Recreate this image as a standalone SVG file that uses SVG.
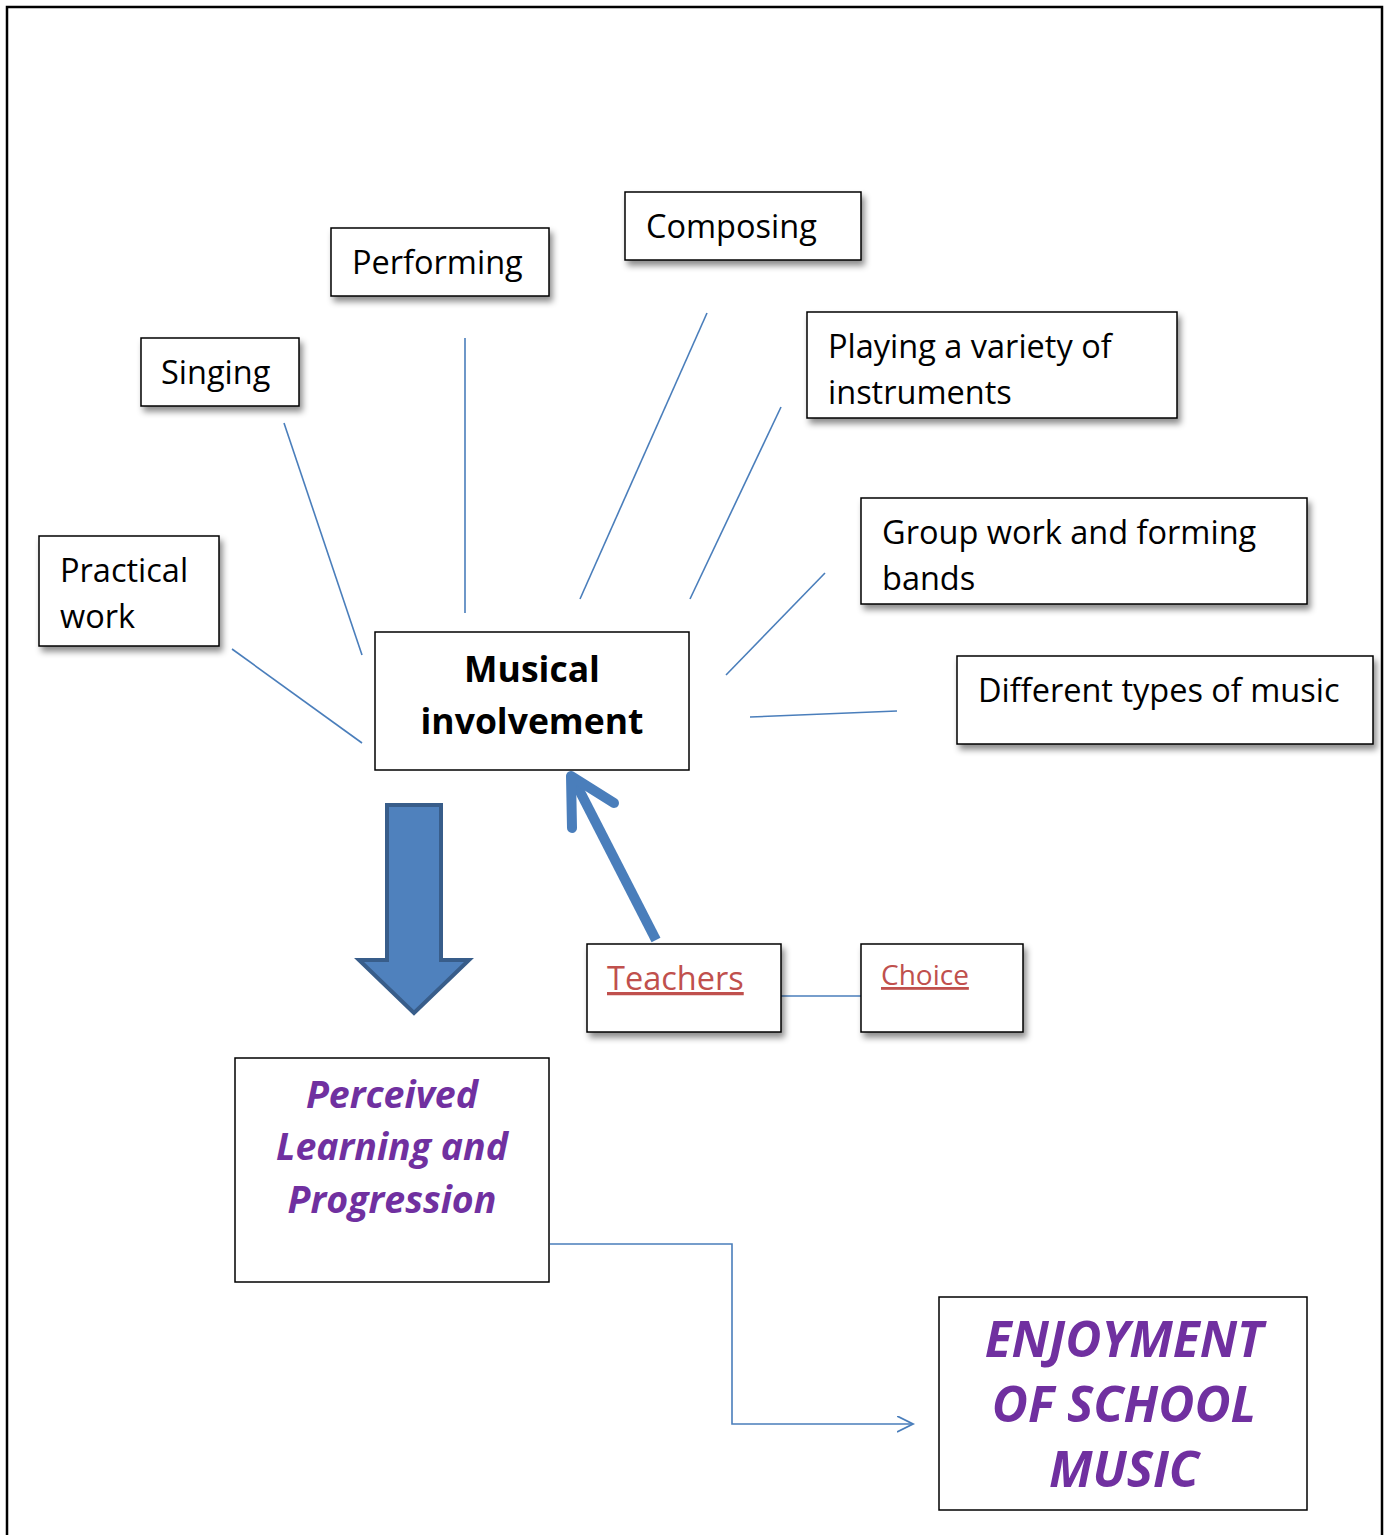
<svg xmlns="http://www.w3.org/2000/svg" width="1389" height="1535" viewBox="0 0 1389 1535">
<style>
.box{fill:#fff;stroke:#000;stroke-width:1.5}
.t{font-family:"Open Sans","Noto Sans",sans-serif;font-size:32.5px;fill:#000}
.b{font-family:"Open Sans","Noto Sans",sans-serif;font-size:35.5px;font-weight:bold;fill:#000;text-anchor:middle}
.p{font-family:"Open Sans","Noto Sans",sans-serif;font-weight:bold;font-style:italic;fill:#7030a0;text-anchor:middle}
.r{font-family:"Open Sans","Noto Sans",sans-serif;fill:#c0504d;text-decoration:underline}
.c{stroke:#4a7ebb;stroke-width:1.6;fill:none}
</style>
<defs>
<filter id="sh" x="-10%" y="-10%" width="130%" height="140%">
<feDropShadow dx="3" dy="5" stdDeviation="3" flood-color="#000" flood-opacity="0.45"/>
</filter>
<marker id="oa" markerWidth="20" markerHeight="20" refX="16" refY="8" orient="auto" markerUnits="userSpaceOnUse">
<path d="M0,0 L16,8 L0,16" fill="none" stroke="#4a7ebb" stroke-width="1.8"/>
</marker>
</defs>
<rect x="7" y="7" width="1375" height="1540" fill="none" stroke="#000" stroke-width="2.5"/>
<g id="connectors">
<line class="c" x1="232" y1="649" x2="362" y2="743"/>
<line class="c" x1="284" y1="423" x2="362" y2="655"/>
<line class="c" x1="465" y1="338" x2="465" y2="613"/>
<line class="c" x1="707" y1="313" x2="580" y2="599"/>
<line class="c" x1="781" y1="407" x2="690" y2="599"/>
<line class="c" x1="825" y1="573" x2="726" y2="675"/>
<line class="c" x1="750" y1="717" x2="897" y2="711"/>
<line class="c" x1="781" y1="996" x2="861" y2="996"/>
<polyline class="c" points="550,1244 732,1244 732,1424 913,1424" marker-end="url(#oa)"/>
<g stroke="#4a7ebb" stroke-width="10" fill="none" stroke-linecap="round" stroke-linejoin="round">
<line x1="656" y1="940" x2="573" y2="778" stroke-linecap="butt"/>
<polyline points="572,828 571,776 614,803"/>
</g>
<path d="M387,805 L441,805 L441,960 L469,960 L414,1013 L359,960 L387,960 Z" fill="#4f81bd" stroke="#385d8a" stroke-width="4"/>
</g>
<g id="composing"><rect class="box" x="625" y="192" width="236" height="68" filter="url(#sh)"/><text class="t" x="646" y="238">Composing</text></g>
<g id="performing"><rect class="box" x="331" y="228" width="218" height="68" filter="url(#sh)"/><text class="t" x="352" y="274">Performing</text></g>
<g id="singing"><rect class="box" x="141" y="338" width="158" height="68" filter="url(#sh)"/><text class="t" x="161" y="384">Singing</text></g>
<g id="playing"><rect class="box" x="807" y="312" width="370" height="106" filter="url(#sh)"/><text class="t" x="828" y="358">Playing a variety of</text><text class="t" x="828" y="404">instruments</text></g>
<g id="practical"><rect class="box" x="39" y="536" width="180" height="110" filter="url(#sh)"/><text class="t" x="60" y="582">Practical</text><text class="t" x="60" y="628">work</text></g>
<g id="group"><rect class="box" x="861" y="498" width="446" height="106" filter="url(#sh)"/><text class="t" x="882" y="544">Group work and forming</text><text class="t" x="882" y="590">bands</text></g>
<g id="different"><rect class="box" x="957" y="656" width="416" height="88" filter="url(#sh)"/><text class="t" x="978" y="702">Different types of music</text></g>
<g id="musical"><rect class="box" x="375" y="632" width="314" height="138"/><text class="b" x="532" y="682">Musical</text><text class="b" x="532" y="734">involvement</text></g>
<g id="teachers"><rect class="box" x="587" y="944" width="194" height="88" filter="url(#sh)"/><text class="r" x="607" y="990" font-size="32.5">Teachers</text></g>
<g id="choice"><rect class="box" x="861" y="944" width="162" height="88" filter="url(#sh)"/><text class="r" x="881" y="985" font-size="28">Choice</text></g>
<g id="perceived"><rect class="box" x="235" y="1058" width="314" height="224"/><text class="p" x="392" y="1108" font-size="37.5">Perceived</text><text class="p" x="392" y="1160" font-size="37.5">Learning and</text><text class="p" x="392" y="1213" font-size="37.5">Progression</text></g>
<g id="enjoyment"><rect class="box" x="939" y="1297" width="368" height="213"/><text class="p" x="1124" y="1357" font-size="49.5">ENJOYMENT</text><text class="p" x="1124" y="1422" font-size="49.5">OF SCHOOL</text><text class="p" x="1124" y="1487" font-size="49.5">MUSIC</text></g>
</svg>
